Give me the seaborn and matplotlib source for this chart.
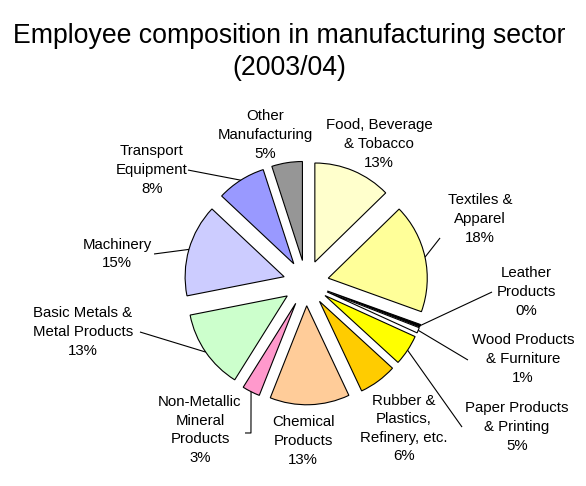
import matplotlib
matplotlib.use("Agg")
import matplotlib.pyplot as plt
import seaborn as sns
import numpy as np

# Employee shares by manufacturing sector, 2003/04 (percent)
sectors = [
    "Food, Beverage\n& Tobacco",
    "Textiles &\nApparel",
    "Leather\nProducts",
    "Wood Products\n& Furniture",
    "Paper Products\n& Printing",
    "Rubber &\nPlastics,\nRefinery, etc.",
    "Chemical\nProducts",
    "Non-Metallic\nMineral\nProducts",
    "Basic Metals &\nMetal Products",
    "Machinery",
    "Transport\nEquipment",
    "Other\nManufacturing",
]
shares = [12.7, 17.8, 0.4, 0.9, 5.0, 6.2, 13.0, 2.9, 13.0, 15.1, 8.0, 5.0]
colors = ["#FFFFCC", "#FFFF99", "#000000", "#FFFFFF", "#FFFF00", "#FFCC00",
          "#FFCC99", "#FF99CC", "#CCFFCC", "#CCCCFF", "#9999FF", "#969696"]

# Label block centres (pie-radius units, pie centre at origin)
label_pos = [(0.737, 1.404), (1.758, 0.646), (2.222, -0.091), (2.192, -0.768),
             (2.131, -1.455), (0.99, -1.47), (-0.03, -1.596), (-1.071, -1.485),
             (-2.253, -0.495), (-1.909, 0.293), (-1.556, 1.141), (-0.414, 1.495)]
# Leader-line points on the label side (None = no leader line)
leader_pts = [None, [(1.354, 0.455)], [(1.879, -0.091)], [(1.636, -0.778)],
              [(1.576, -1.455)], None, None,
              [(-0.616, -1.515), (-0.556, -1.515)],
              [(-1.677, -0.495)], [(-1.535, 0.293)], [(-1.192, 1.141)], None]

sns.set_theme(style="white")
plt.rcParams["font.family"] = ["Liberation Sans", "DejaVu Sans"]

W, H, DPI = 586, 486, 100
R_PX = 99.0                # pie radius in pixels
CX, CY = 306.0, 283.0      # pie centre in pixels (from top-left)

fig = plt.figure(figsize=(W / DPI, H / DPI), dpi=DPI)
fig.patch.set_facecolor("white")
ax = fig.add_axes([0, 0, 1, 1])

wedges, _ = ax.pie(
    shares,
    colors=colors,
    explode=[0.23] * len(shares),
    startangle=90,
    counterclock=False,
    radius=1.0,
    wedgeprops=dict(edgecolor="black", linewidth=0.8),
)

ax.set_xlim(-CX / R_PX, (W - CX) / R_PX)
ax.set_ylim(-(H - CY) / R_PX, CY / R_PX)
ax.set_aspect("equal")
ax.axis("off")

total = sum(shares)
for w, name, val, (lx, ly), pts in zip(wedges, sectors, shares, label_pos, leader_pts):
    pct = val / total * 100
    ax.text(lx, ly, f"{name}\n{pct:.0f}%", ha="center", va="center",
            multialignment="center", fontsize=10.8, color="black",
            linespacing=1.42)
    if pts is not None:
        mid = np.deg2rad((w.theta1 + w.theta2) / 2)
        cx, cy = w.center
        ax_pt = (cx + w.r * np.cos(mid), cy + w.r * np.sin(mid))
        line = list(pts) + [ax_pt]
        xs, ys = zip(*line)
        ax.plot(xs, ys, color="black", linewidth=0.8, solid_capstyle="butt")

fig.text(289 / W, 1 - 52 / H, "Employee composition in manufacturing sector\n(2003/04)",
         ha="center", va="center", fontsize=19.2, linespacing=1.27, color="black")

fig.savefig("out.png", dpi=DPI)
